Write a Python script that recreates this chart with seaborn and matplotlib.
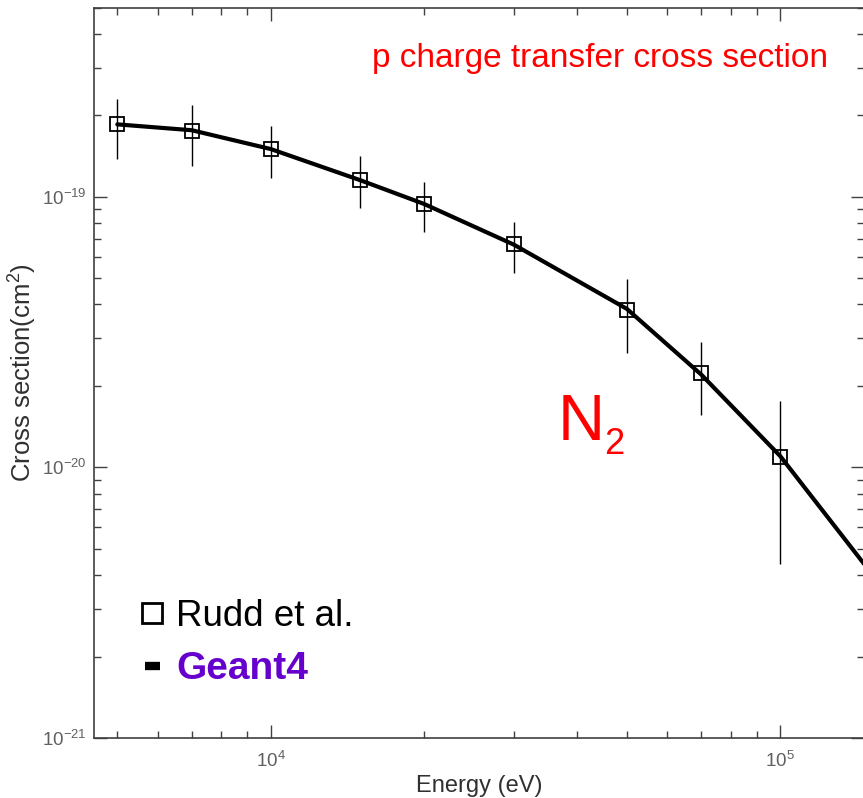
import matplotlib
matplotlib.use("Agg")
import matplotlib.pyplot as plt
import matplotlib.ticker as mticker
from matplotlib.lines import Line2D
import numpy as np
import pandas as pd
import seaborn as sns

# Rudd et al. measurements (eV, cm^2) with error bar ends
rudd_energy = [5000, 7000, 10000, 15000, 20000, 30000, 50000, 70000, 100000]
rudd_sigma = [1.85e-19, 1.75e-19, 1.50e-19, 1.155e-19, 0.942e-19, 0.670e-19, 3.82e-20, 2.23e-20, 1.09e-20]
rudd_upper = [2.30e-19, 2.19e-19, 1.83e-19, 1.41e-19, 1.136e-19, 0.808e-19, 4.98e-20, 2.91e-20, 1.76e-20]
rudd_lower = [1.38e-19, 1.30e-19, 1.17e-19, 0.911e-19, 0.742e-19, 0.524e-19, 2.65e-20, 1.56e-20, 4.4e-21]

# Geant4 model curve
g4_energy = [5000, 7000, 10000, 15000, 20000, 30000, 50000, 70000, 100000, 146000]
g4_sigma = [1.85e-19, 1.76e-19, 1.50e-19, 1.15e-19, 0.94e-19, 0.665e-19, 3.85e-20, 2.2e-20, 1.1e-20, 4.4e-21]

x_major = [1e4, 1e5]
y_major = [1e-21, 1e-20, 1e-19]

sns.set_style("ticks")
plt.rcParams["font.family"] = ["Liberation Sans", "DejaVu Sans"]
plt.rcParams["mathtext.default"] = "regular"

fig = plt.figure(figsize=(8.63, 7.98), dpi=100)
ax = fig.add_axes([94 / 863, 60 / 798, 770 / 863, 730.5 / 798])

rudd = pd.DataFrame({"energy": rudd_energy, "sigma": rudd_sigma,
                     "lo": rudd_lower, "hi": rudd_upper})
g4 = pd.DataFrame({"energy": g4_energy, "sigma": g4_sigma})

yerr = np.array([rudd["sigma"] - rudd["lo"], rudd["hi"] - rudd["sigma"]])
ax.errorbar(rudd["energy"], rudd["sigma"], yerr=yerr, fmt="none",
            ecolor="black", elinewidth=1, capsize=0, zorder=2)
ax.plot(rudd["energy"], rudd["sigma"], ls="none", marker="s", ms=9.5,
        mfc="none", mec="black", mew=1.3, zorder=3)
sns.lineplot(data=g4, x="energy", y="sigma", color="black", lw=3,
             ax=ax, zorder=4, legend=False)

ax.set_xscale("log")
ax.set_yscale("log")
ax.set_xlim(4500, 1.46e5)
ax.set_ylim(1e-21, 5e-19)


def pow_label(v, pos):
    e = int(round(np.log10(v)))
    return rf"$10^{{{e}}}$"


ax.xaxis.set_major_locator(mticker.FixedLocator(x_major))
ax.yaxis.set_major_locator(mticker.FixedLocator(y_major))
ax.xaxis.set_minor_locator(mticker.LogLocator(base=10, subs=np.arange(2, 10), numticks=20))
ax.yaxis.set_minor_locator(mticker.LogLocator(base=10, subs=np.arange(2, 10), numticks=20))
ax.xaxis.set_major_formatter(mticker.FuncFormatter(pow_label))
ax.yaxis.set_major_formatter(mticker.FuncFormatter(pow_label))
ax.xaxis.set_minor_formatter(mticker.NullFormatter())
ax.yaxis.set_minor_formatter(mticker.NullFormatter())

ax.tick_params(which="both", direction="in", top=True, right=True,
               colors="#404040", labelcolor="#606060", labelsize=13.5)
ax.tick_params(which="major", length=9.5, width=1)
ax.tick_params(axis="x", which="major", pad=9)
ax.tick_params(axis="y", which="major", pad=5)
ax.tick_params(which="minor", length=5, width=1)
for s in ax.spines.values():
    s.set_color("#404040")
    s.set_linewidth(1.2)

ax.set_xlabel("Energy (eV)", fontsize=17, color="#303030", labelpad=3)
ax.set_ylabel("Cross section(cm$^2$)", fontsize=18.5, color="#303030")
ax.yaxis.set_label_coords(-0.071, 0.5)

ax.text(0.953, 0.9185, "p charge transfer cross section", transform=ax.transAxes,
        ha="right", va="baseline", color="red", fontsize=24)
narrow = ["Liberation Sans Narrow", "Liberation Sans"]
ax.text(0.602, 0.408, "N", transform=ax.transAxes, ha="left",
        va="baseline", color="red", fontsize=47, family=narrow)
ax.text(0.662, 0.389, "2", transform=ax.transAxes, ha="left",
        va="baseline", color="red", fontsize=26, family=narrow)

handles = [
    Line2D([], [], ls="none", marker="s", ms=15, mfc="white", mec="black", mew=2),
    Line2D([], [], color="black", lw=6, solid_capstyle="butt"),
]
leg = ax.legend(handles, ["Rudd et al.", "Geant4"], loc="upper left",
                bbox_to_anchor=(0.066, 0.19), frameon=False, fontsize=26.5,
                handlelength=0.4, handletextpad=0.45, labelspacing=0.45,
                borderpad=0, borderaxespad=0)
texts = leg.get_texts()
texts[0].set_color("black")
texts[1].set_color("#6600CC")
texts[1].set_fontweight("bold")
texts[1].set_fontsize(28)

fig.savefig("out.png", dpi=100)
